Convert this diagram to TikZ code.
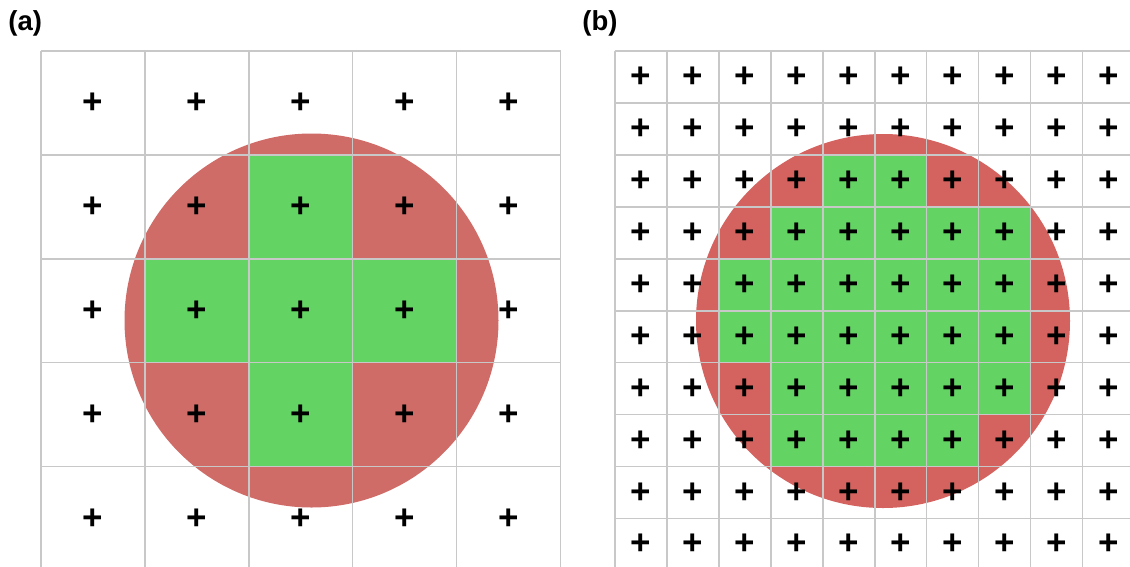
\documentclass[tikz,border=0pt]{standalone}
\usepackage{fontspec}
\setmainfont{Liberation Sans}
\definecolor{redA}{HTML}{CF6C68}
\definecolor{redB}{HTML}{D4635F}
\definecolor{greenc}{HTML}{63D463}
\definecolor{gridc}{HTML}{C8C8C8}
\begin{document}
\begin{tikzpicture}[x=1pt,y=-1pt,
  plus/.style={font=\fontsize{35}{35}\selectfont\bfseries, inner sep=0pt, text=black},
  panellabel/.style={font=\fontsize{27.5}{27.5}\selectfont\bfseries, inner sep=0pt},
  cellgrid/.style={draw=gridc, line width=1.3pt},
  greencell/.style={fill=greenc}]
\useasboundingbox (0,0) rectangle (1130,566);
% ---------- panel (a) ----------
\fill[redA] (311.5,320.5) circle[radius=187pt];
\foreach \r/\c in {2/3,3/2,3/3,3/4,4/3}
  \fill[greencell] ({41+(\c-1)*103.94},{51+(\r-1)*103.94}) rectangle ++(103.94,103.94);
\foreach \i in {0,...,5} {
  \draw[cellgrid] ({41+\i*103.94},51) -- ({41+\i*103.94},575);
  \draw[cellgrid] (41,{51+\i*103.94}) -- (560.7,{51+\i*103.94});
}
\foreach \r in {1,...,5}
  \foreach \c in {1,...,5}
    \node[plus] (pa-\r-\c) at ({41+(\c-0.5)*103.94},{51+(\r-0.5)*103.94}) {+};
\node[panellabel] (la) at (25.3,23.3) {(a)};
% ---------- panel (b) ----------
\fill[redB] (883,321) circle[radius=187pt];
\foreach \r/\c in {3/5,3/6,
                   4/4,4/5,4/6,4/7,4/8,
                   5/3,5/4,5/5,5/6,5/7,5/8,
                   6/3,6/4,6/5,6/6,6/7,6/8,
                   7/4,7/5,7/6,7/7,7/8,
                   8/4,8/5,8/6,8/7}
  \fill[greencell] ({615+(\c-1)*51.97},{51+(\r-1)*51.97}) rectangle ++(51.97,51.97);
\foreach \i in {0,...,10} {
  \draw[cellgrid] ({615+\i*51.97},51) -- ({615+\i*51.97},575);
  \draw[cellgrid] (615,{51+\i*51.97}) -- (1140,{51+\i*51.97});
}
\foreach \r in {1,...,10}
  \foreach \c in {1,...,10}
    \node[plus] (pb-\r-\c) at ({615+(\c-0.5)*51.97},{51+(\r-0.5)*51.97}) {+};
\node[panellabel] (lb) at (600,23.3) {(b)};
\end{tikzpicture}
\end{document}
